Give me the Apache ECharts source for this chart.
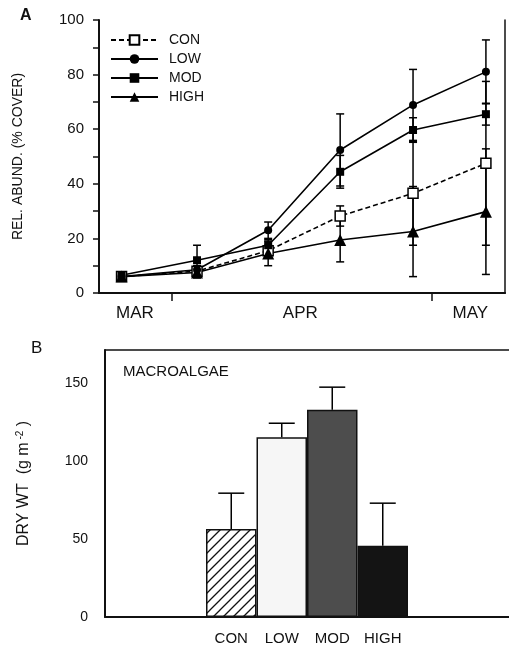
<!DOCTYPE html>
<html><head><meta charset="utf-8">
<script src="https://cdn.jsdelivr.net/npm/echarts@6/dist/echarts.min.js"></script>
<style>html,body{margin:0;padding:0;background:#fff}#c{width:509px;height:649px}</style>
</head><body><div id="c"></div>
<script>
// ---- Panel A data ----
const treatments = ['CON', 'LOW', 'MOD', 'HIGH'];
const sampleDays = [25.2, 33.9, 42.1, 50.4, 58.8, 67.2];
const conMean = [6, 8, 15.5, 28.2, 36.5, 47.5];
const conErr = [1, 1.5, 2, 3.7, 19, 30];
const lowMean = [6, 8.5, 23, 52.4, 68.9, 81];
const lowErr = [1, 1.5, 3, 13.2, 13, 11.7];
const modMean = [6.5, 12, 17.5, 44.4, 59.7, 65.5];
const modErr = [1, 5.5, 2, 6, 4.5, 4];
const highMean = [6, 7.5, 14.5, 19.4, 22.5, 29.8];
const highErr = [1, 2, 4.5, 8, 16.5, 23];
const monthLabels = ['MAR', 'APR', 'MAY'];
const monthLabelDays = [26.75, 45.8, 65.4];
const monthStartDays = [31, 61];
const pctLabels = [0, 20, 40, 60, 80, 100];
const pctTicks = [0, 10, 20, 30, 40, 50, 60, 70, 80, 90, 100];

// ---- Panel B data ----
const biomass = [56.4, 115.2, 132.7, 45.7];
const biomassErr = [22.9, 8.9, 14.5, 27.2];
const biomassLabels = [0, 50, 100, 150];
const biomassTicks = [0, 25, 50, 75, 100, 125, 150];

const FONT = '"Liberation Sans", Arial, Helvetica, sans-serif';
const INK = '#111';

// hatch pattern
const hc = document.createElement('canvas');
hc.width = 10; hc.height = 10;
const hx = hc.getContext('2d');
hx.fillStyle = '#fff'; hx.fillRect(0, 0, 10, 10);
hx.strokeStyle = '#111'; hx.lineWidth = 1.3;
hx.beginPath();
hx.moveTo(-1, 11); hx.lineTo(11, -1);
hx.moveTo(-6, 6); hx.lineTo(6, -6);
hx.moveTo(4, 16); hx.lineTo(16, 4);
hx.stroke();

const means = [conMean, lowMean, modMean, highMean];
const errs = [conErr, lowErr, modErr, highErr];

const errDataA = [];
means.forEach((m, s) => m.forEach((v, i) => errDataA.push([sampleDays[i], v - errs[s][i], v + errs[s][i]])));

const padCats = ['p0', 'p1', ...treatments, 'p6', 'p7'];
const PAD = 2;
const barFills = [{ image: hc, repeat: 'repeat' }, '#f6f6f6', '#4d4d4d', '#141414'];
const barData = biomass.map((v, i) => ({
  value: [PAD + i, v],
  itemStyle: { color: barFills[i], borderColor: '#111', borderWidth: 1.5 }
}));
const errDataB = biomass.map((v, i) => [PAD + i, v, v + biomassErr[i]]);

function lineSeries(name, data, symbol, size, fill, dashed) {
  return {
    name, type: 'line', xAxisIndex: 0, yAxisIndex: 0,
    data: sampleDays.map((d, i) => [d, data[i]]),
    symbol, symbolSize: size, showAllSymbol: true,
    itemStyle: { color: fill, borderColor: '#000', borderWidth: fill === '#fff' ? 1.5 : 0 },
    lineStyle: { color: '#000', width: 1.6, type: dashed ? [5, 3] : 'solid' },
    z: 3, animation: false
  };
}

const errStyle = { stroke: '#000', lineWidth: 1.5 };
function errRender(hw, both) {
  return function (params, api) {
    const x = api.value(0), lo = api.value(1), hi = api.value(2);
    const a = api.coord([x, lo]), b = api.coord([x, hi]);
    const ch = [
      { type: 'line', shape: { x1: a[0], y1: a[1], x2: b[0], y2: b[1] }, style: errStyle },
      { type: 'line', shape: { x1: b[0] - hw, y1: b[1], x2: b[0] + hw, y2: b[1] }, style: errStyle }
    ];
    if (both) ch.push({ type: 'line', shape: { x1: a[0] - hw, y1: a[1], x2: a[0] + hw, y2: a[1] }, style: errStyle });
    return { type: 'group', children: ch };
  };
}

const chart = echarts.init(document.getElementById('c'), null, { renderer: 'canvas' });
const axisLineStyle = { color: INK, width: 2 };
chart.setOption({
  animation: false,
  textStyle: { fontFamily: FONT },
  grid: [
    { left: 99, top: 20, width: 406, height: 273 },
    { left: 105, top: 350, width: 408, height: 267 }
  ],
  legend: {
    data: treatments, orient: 'vertical', left: 105, top: 28,
    itemWidth: 47, itemHeight: 12, itemGap: 5,
    textStyle: { fontFamily: FONT, fontSize: 14, color: INK, padding: [0, 0, 0, 6] }
  },
  xAxis: [
    {
      type: 'value', gridIndex: 0, min: 22.6, max: 69.4,
      axisLine: { lineStyle: axisLineStyle },
      axisTick: { customValues: monthStartDays, length: 8, lineStyle: { color: INK, width: 1.5 } },
      axisLabel: {
        customValues: monthLabelDays, margin: 12, fontSize: 17, color: INK, fontFamily: FONT,
        formatter: v => monthLabels[monthLabelDays.indexOf(v)] || ''
      },
      splitLine: { show: false }
    },
    {
      type: 'value', gridIndex: 0, position: 'top', min: 22.6, max: 69.4,
      axisLine: { show: true, lineStyle: { color: INK, width: 1.5 } },
      axisTick: { show: false }, axisLabel: { show: false }, splitLine: { show: false }
    },
    {
      type: 'category', gridIndex: 1, data: padCats,
      axisLine: { lineStyle: axisLineStyle },
      axisTick: { show: false },
      axisLabel: {
        interval: 0, margin: 14, fontSize: 15, color: INK, fontFamily: FONT,
        formatter: v => treatments.includes(v) ? v : ''
      }
    },
    {
      type: 'category', gridIndex: 1, position: 'top', data: padCats,
      axisLine: { show: true, lineStyle: { color: INK, width: 1.5 } },
      axisTick: { show: false }, axisLabel: { show: false }
    }
  ],
  yAxis: [
    {
      type: 'value', gridIndex: 0, min: 0, max: 100,
      name: 'REL. ABUND. (% COVER)', nameLocation: 'middle', nameGap: 74, nameRotate: 90,
      nameTextStyle: { fontSize: 14, color: INK, fontFamily: FONT },
      axisLine: { show: true, lineStyle: axisLineStyle },
      axisTick: { customValues: pctTicks, length: 6, lineStyle: { color: INK, width: 1.5 } },
      axisLabel: { customValues: pctLabels, margin: 15, fontSize: 15, color: INK, fontFamily: FONT },
      splitLine: { show: false }
    },
    {
      type: 'value', gridIndex: 0, position: 'right', min: 0, max: 100,
      axisLine: { show: true, lineStyle: { color: INK, width: 1.5 } },
      axisTick: { show: false }, axisLabel: { show: false }, splitLine: { show: false }
    },
    {
      type: 'value', gridIndex: 1, min: 0, max: 171,
      name: '{t|DRY WT  (g m}{s| -2}{t| )}', nameLocation: 'middle', nameGap: 72, nameRotate: 90,
      nameTextStyle: {
        rich: {
          t: { fontSize: 16, color: INK, fontFamily: FONT },
          s: { fontSize: 10, color: INK, fontFamily: FONT, verticalAlign: 'top', padding: [0, 0, 8, 0] }
        }
      },
      axisLine: { show: true, lineStyle: axisLineStyle },
      axisTick: { customValues: biomassTicks, length: 6, lineStyle: { color: INK, width: 1.5 } },
      axisLabel: { customValues: biomassLabels, margin: 17, fontSize: 14, color: INK, fontFamily: FONT },
      splitLine: { show: false }
    }
  ],
  graphic: [
    { type: 'text', left: 20, top: 8, style: { text: 'A', fontSize: 16, fontWeight: 'bold', fill: INK, fontFamily: FONT } },
    { type: 'text', left: 31, top: 340, style: { text: 'B', fontSize: 17, fill: INK, fontFamily: FONT } },
    { type: 'text', left: 123, top: 364, style: { text: 'MACROALGAE', fontSize: 15, fill: INK, fontFamily: FONT } }
  ],
  series: [
    {
      type: 'custom', xAxisIndex: 0, yAxisIndex: 0, data: errDataA,
      encode: { x: 0, y: [1, 2] }, renderItem: errRender(4, true), z: 2, silent: true
    },
    lineSeries('CON', conMean, 'rect', 10, '#fff', true),
    lineSeries('LOW', lowMean, 'circle', 8, '#000', false),
    lineSeries('MOD', modMean, 'rect', 8, '#000', false),
    lineSeries('HIGH', highMean, 'triangle', 12, '#000', false),
    {
      type: 'bar', xAxisIndex: 2, yAxisIndex: 2, data: barData,
      barWidth: '100%', z: 2, silent: true
    },
    {
      type: 'custom', xAxisIndex: 2, yAxisIndex: 2, data: errDataB,
      encode: { x: 0, y: [1, 2] }, renderItem: errRender(13, false), z: 3, silent: true
    }
  ]
});
</script>
</body></html>
